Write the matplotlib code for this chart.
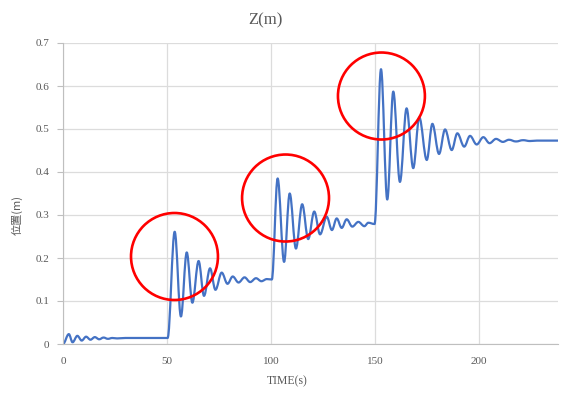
import numpy as np
import matplotlib.pyplot as plt
from matplotlib.patches import Ellipse, PathPatch
from matplotlib.path import Path

plt.rcParams['font.family'] = ['Liberation Serif', 'Noto Sans CJK JP']

# position response, sampled at the peaks / troughs of each step
t_step1 = [0.0, 2.8, 4.6, 6.9, 9.0, 11.1, 13.2, 15.3, 17.4, 19.5, 21.6, 23.7, 26.0, 30.0, 50.3]
z_step1 = [0.000, 0.023, 0.004, 0.019, 0.008, 0.017, 0.010, 0.016, 0.011, 0.015, 0.012, 0.014, 0.013, 0.014, 0.014]

t_step2 = [53.7, 56.7, 59.5, 62.2, 65.2, 67.8, 70.7, 73.3, 76.3, 79.1, 81.6, 84.4, 87.3, 90.0, 92.8, 95.4, 98.0, 100.4]
z_step2 = [0.261, 0.064, 0.213, 0.096, 0.193, 0.112, 0.176, 0.126, 0.166, 0.140, 0.157, 0.143, 0.155, 0.144, 0.153, 0.146, 0.151, 0.150]

t_step3 = [103.2, 106.3, 109.0, 112.0, 115.0, 117.9, 120.8, 123.6, 126.8, 129.3, 131.6, 134.0, 136.4, 139.1, 142.0, 144.9, 146.8, 149.8]
z_step3 = [0.385, 0.191, 0.350, 0.222, 0.325, 0.244, 0.308, 0.255, 0.296, 0.265, 0.292, 0.270, 0.290, 0.273, 0.284, 0.274, 0.282, 0.279]

t_step4 = [152.9, 155.9, 158.8, 162.0, 165.2, 168.4, 171.3, 174.9, 177.6, 180.8, 183.7, 186.9, 189.6, 192.9,
           195.7, 198.9, 202.1, 205.1, 208.2, 211.5, 214.4, 217.8, 221.2, 224.5, 227.9, 238.0]
z_step4 = [0.639, 0.336, 0.587, 0.377, 0.548, 0.409, 0.527, 0.428, 0.512, 0.442, 0.499, 0.451, 0.490, 0.459,
           0.484, 0.464, 0.481, 0.467, 0.477, 0.470, 0.475, 0.471, 0.474, 0.472, 0.473, 0.473]

time = t_step1 + t_step2 + t_step3 + t_step4
z = z_step1 + z_step2 + z_step3 + z_step4

x_ticks = [0, 50, 100, 150, 200]
y_ticks = [0, 0.1, 0.2, 0.3, 0.4, 0.5, 0.6, 0.7]

fig = plt.figure(figsize=(5.61, 3.94), dpi=100)
ax = fig.add_axes([63 / 561, 1 - 344 / 394, 495 / 561, 301 / 394])

# smoothed line through the samples: one cubic segment per pair,
# flat tangent at every sample (peaks and troughs)
verts = [(time[0], z[0])]
codes = [Path.MOVETO]
for i in range(1, len(time)):
    t0, z0 = time[i - 1], z[i - 1]
    t1, z1 = time[i], z[i]
    d = 0.36 * (t1 - t0)
    verts += [(t0 + d, z0), (t1 - d, z1), (t1, z1)]
    codes += [Path.CURVE4] * 3
ax.add_patch(PathPatch(Path(verts, codes), fill=False, edgecolor='#4472c4', lw=1.6,
                       joinstyle='round', capstyle='round', zorder=2))

# overshoot markers
for cx, cy in [(53.6, 0.2035), (107.0, 0.3395), (153.1, 0.5767)]:
    ax.add_patch(Ellipse((cx, cy), 41.8, 0.2023, fill=False, edgecolor='#ff0000', lw=1.9, zorder=3))

ax.set_xlim(0, 238)
ax.set_ylim(0, 0.7)
ax.set_xticks(x_ticks)
ax.set_yticks(y_ticks)
ax.set_xticklabels([str(v) for v in x_ticks])
ax.set_yticklabels(['0'] + ['%.1f' % v for v in y_ticks[1:]])
ax.grid(True, color='#dcdcdc', lw=0.9)
ax.set_axisbelow(True)
for side in ['top', 'right']:
    ax.spines[side].set_visible(False)
for side in ['left', 'bottom']:
    ax.spines[side].set_color('#bfbfbf')
ax.tick_params(axis='y', length=4, color='#bfbfbf', labelsize=8, labelcolor='#595959', pad=6)
ax.tick_params(axis='x', length=0, labelsize=8, labelcolor='#595959', pad=9)

fig.text(265 / 561, 1 - 20 / 394, 'Z(m)', ha='center', va='center', fontsize=12, color='#595959')
fig.text(287 / 561, 1 - 381 / 394, 'TIME(s)', ha='center', va='center', fontsize=8.5, color='#595959')
fig.text(17 / 561, 1 - 215 / 394, '位置(m)', ha='center', va='center', rotation=90, fontsize=8,
         color='#595959', family=['Noto Sans CJK JP', 'Liberation Serif'])

plt.savefig('out.png', dpi=100)
